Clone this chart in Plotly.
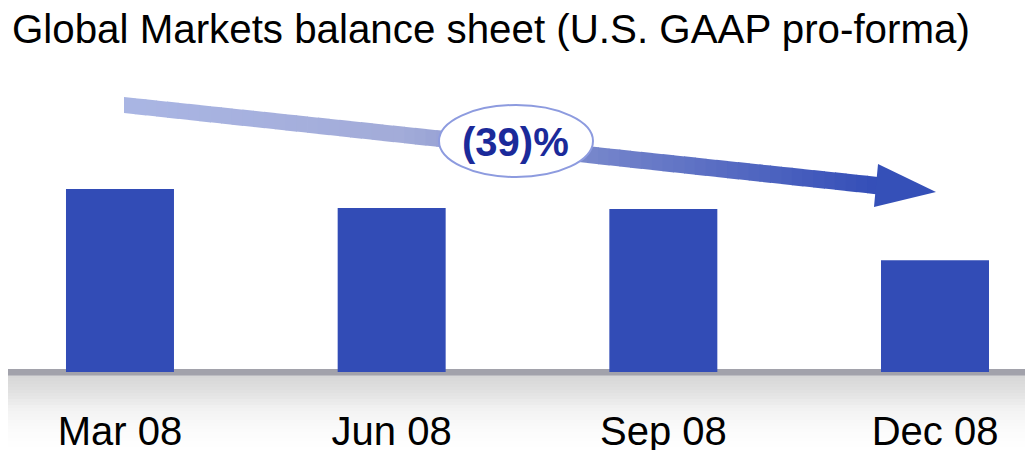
import numpy as np
import plotly.graph_objects as go

# ---- data (indexed, Mar 08 = 100) ----
quarters = ["Mar 08", "Jun 08", "Sep 08", "Dec 08"]
balance = [100, 89.6, 89.1, 61.0]
change_label = "(39)%"
title_text = "Global Markets balance sheet (U.S. GAAP pro-forma)"

OFF = 8                  # page body margin
W, H = 1033 - OFF, 450 - OFF
BASE = 372 - OFF         # baseline in figure px
PLOT_B = H - BASE
PH = BASE

def px(x):               # reference window px -> paper
    return (x - OFF) / W

def py(y):
    return (PH - (y - OFF)) / PH

BAR_COLOR = "#324CB6"
SPACING = 271.7
c0 = 120 - OFF

fig = go.Figure()
fig.add_trace(go.Bar(
    x=list(range(len(quarters))),
    y=balance,
    width=108 / SPACING,
    marker=dict(color=BAR_COLOR, line=dict(width=0)),
    hoverinfo="skip",
))

shapes = []
# gray gradient below the baseline
keys_y = [375, 393, 410, 430, 450]
keys_c = [214, 226, 243, 251, 255]
ys = np.arange(375, 450, 3)
for y in ys:
    c = int(round(np.interp(y + 1.5, keys_y, keys_c)))
    shapes.append(dict(type="rect", xref="paper", yref="paper",
                       x0=px(5), x1=px(1034), y0=py(y), y1=py(min(y + 3.6, 450)),
                       fillcolor=f"rgb({c},{c},{c})", line=dict(width=0), layer="below"))
# baseline band
shapes.append(dict(type="rect", xref="paper", yref="paper",
                   x0=px(5), x1=px(1034), y0=py(369), y1=py(375.5),
                   fillcolor="#A2A2AB", line=dict(width=0), layer="below"))

# arrow shaft with gradient
x_start, x_end = 124.0, 878.0
def top(x):
    return 97 + 0.106 * (x - 124)
def bot(x):
    return 113 + 0.108 * (x - 124)
ck_x = [124, 400, 878]
ck_r = [170, 163, 52]
ck_g = [182, 172, 78]
ck_b = [228, 217, 184]
N = 70
edges = np.linspace(x_start, x_end, N + 1)
for i in range(N):
    a, b = edges[i], edges[i + 1] + (0.8 if i < N - 1 else 0)
    m = (edges[i] + edges[i + 1]) / 2
    r = int(np.interp(m, ck_x, ck_r)); g = int(np.interp(m, ck_x, ck_g)); bl = int(np.interp(m, ck_x, ck_b))
    path = (f"M {px(a)},{py(top(a))} L {px(b)},{py(top(b))} "
            f"L {px(b)},{py(bot(b))} L {px(a)},{py(bot(a))} Z")
    shapes.append(dict(type="path", xref="paper", yref="paper", path=path,
                       fillcolor=f"rgb({r},{g},{bl})", line=dict(width=0), layer="above"))
# arrow head
head = f"M {px(878)},{py(164)} L {px(936)},{py(192)} L {px(874)},{py(207)} Z"
shapes.append(dict(type="path", xref="paper", yref="paper", path=head,
                   fillcolor="#3550B8", line=dict(width=0), layer="above"))
# ellipse
shapes.append(dict(type="circle", xref="paper", yref="paper",
                   x0=px(439), x1=px(593), y0=py(177), y1=py(105),
                   fillcolor="white", line=dict(color="#8D9BDF", width=2), layer="above"))

annotations = [
    dict(text=title_text, xref="paper", yref="paper", x=px(10), y=py(29),
         xanchor="left", yanchor="middle", showarrow=False,
         font=dict(family="Liberation Sans, Arial", size=40.3, color="black")),
    dict(text=f"<b>{change_label}</b>", xref="paper", yref="paper", x=px(515), y=py(142),
         xanchor="center", yanchor="middle", showarrow=False,
         font=dict(family="Liberation Sans, Arial", size=40, color="#1B2A9A")),
]

fig.update_layout(
    width=W, height=H,
    margin=dict(l=0, r=0, t=0, b=PLOT_B, autoexpand=False),
    paper_bgcolor="white", plot_bgcolor="rgba(0,0,0,0)",
    showlegend=False,
    shapes=shapes, annotations=annotations,
    xaxis=dict(range=[-c0 / SPACING, 3 + (W - (935 - OFF)) / SPACING], tickmode="array",
               tickvals=list(range(len(quarters))), ticktext=quarters,
               showgrid=False, zeroline=False, showline=False,
               ticks="outside", ticklen=24, tickcolor="rgba(0,0,0,0)",
               tickfont=dict(family="Liberation Sans, Arial", size=40, color="black"),
               automargin=False, fixedrange=True),
    yaxis=dict(range=[0, 100 * PH / 183], visible=False, fixedrange=True),
)

fig.write_html("out.html")
